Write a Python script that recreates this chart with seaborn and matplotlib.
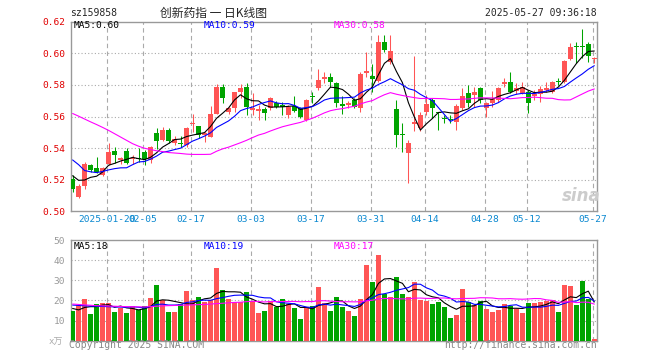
import matplotlib
matplotlib.use("Agg")
import matplotlib.pyplot as plt
import numpy as np
import pandas as pd
import seaborn as sns

# daily OHLC (2025-01-10 .. 2025-05-27)
opens = [
    0.5202, 0.5092, 0.5162, 0.5291, 0.5274, 0.5230, 0.5299, 0.5381, 0.5325, 0.5381,
    0.5329, 0.5337, 0.5375, 0.5325, 0.5496, 0.5451, 0.5515, 0.5430, 0.5426, 0.5419,
    0.5551, 0.5541, 0.5483, 0.5472, 0.5616, 0.5785, 0.5630, 0.5652, 0.5753, 0.5785,
    0.5641, 0.5637, 0.5647, 0.5652, 0.5688, 0.5673, 0.5609, 0.5666, 0.5652, 0.5578,
    0.5727, 0.5778, 0.5835, 0.5852, 0.5810, 0.5679, 0.5673, 0.5704, 0.5656, 0.5873,
    0.5857, 0.5825, 0.6070, 0.5943, 0.5647, 0.5487, 0.5367, 0.5550, 0.5527, 0.5628,
    0.5704, 0.5627, 0.5584, 0.5580, 0.5567, 0.5654, 0.5751, 0.5735, 0.5778, 0.5652,
    0.5683, 0.5704, 0.5804, 0.5820, 0.5763, 0.5751, 0.5757, 0.5730, 0.5742, 0.5768,
    0.5757, 0.5822, 0.5820, 0.5962, 0.6044, 0.6044, 0.6057, 0.5966,
]
highs = [
    0.5230, 0.5173, 0.5314, 0.5299, 0.5345, 0.5278, 0.5430, 0.5409, 0.5345, 0.5402,
    0.5356, 0.5398, 0.5388, 0.5413, 0.5527, 0.5533, 0.5527, 0.5477, 0.5477, 0.5535,
    0.5614, 0.5541, 0.5504, 0.5666, 0.5806, 0.5806, 0.5662, 0.5753, 0.5806, 0.5810,
    0.5747, 0.5673, 0.5662, 0.5725, 0.5698, 0.5694, 0.5673, 0.5730, 0.5662, 0.5709,
    0.5757, 0.5899, 0.5884, 0.5873, 0.5820, 0.5732, 0.5698, 0.5715, 0.5884, 0.6006,
    0.5930, 0.6116, 0.6116, 0.6116, 0.5704, 0.5557, 0.5451, 0.5983, 0.5626, 0.5736,
    0.5715, 0.5630, 0.5609, 0.5609, 0.5679, 0.5778, 0.5799, 0.5789, 0.5789, 0.5694,
    0.5764, 0.5789, 0.5841, 0.5884, 0.5810, 0.5820, 0.5768, 0.5768, 0.5793, 0.5820,
    0.5824, 0.5841, 0.5958, 0.6067, 0.6073, 0.6152, 0.6073, 0.5975,
]
lows = [
    0.5124, 0.5082, 0.5143, 0.5251, 0.5240, 0.5224, 0.5293, 0.5304, 0.5299, 0.5299,
    0.5299, 0.5314, 0.5293, 0.5307, 0.5394, 0.5445, 0.5430, 0.5419, 0.5405, 0.5405,
    0.5504, 0.5462, 0.5440, 0.5468, 0.5616, 0.5683, 0.5616, 0.5630, 0.5715, 0.5609,
    0.5609, 0.5578, 0.5578, 0.5641, 0.5652, 0.5609, 0.5588, 0.5630, 0.5588, 0.5573,
    0.5683, 0.5768, 0.5814, 0.5789, 0.5662, 0.5614, 0.5652, 0.5652, 0.5626, 0.5852,
    0.5757, 0.5820, 0.6006, 0.5930, 0.5409, 0.5377, 0.5177, 0.5508, 0.5508, 0.5609,
    0.5588, 0.5514, 0.5557, 0.5557, 0.5514, 0.5641, 0.5662, 0.5662, 0.5683, 0.5599,
    0.5662, 0.5694, 0.5789, 0.5747, 0.5742, 0.5742, 0.5624, 0.5704, 0.5694, 0.5757,
    0.5751, 0.5799, 0.5814, 0.5958, 0.5936, 0.5968, 0.5947, 0.5937,
]
closes = [
    0.5139, 0.5160, 0.5299, 0.5261, 0.5251, 0.5272, 0.5375, 0.5358, 0.5335, 0.5304,
    0.5335, 0.5333, 0.5329, 0.5409, 0.5445, 0.5515, 0.5445, 0.5456, 0.5424, 0.5525,
    0.5561, 0.5484, 0.5497, 0.5616, 0.5785, 0.5719, 0.5652, 0.5753, 0.5778, 0.5660,
    0.5656, 0.5647, 0.5620, 0.5715, 0.5662, 0.5662, 0.5662, 0.5637, 0.5599, 0.5704,
    0.5722, 0.5831, 0.5852, 0.5820, 0.5683, 0.5668, 0.5683, 0.5662, 0.5867, 0.5888,
    0.5837, 0.6070, 0.6021, 0.6015, 0.5483, 0.5483, 0.5434, 0.5563, 0.5609, 0.5679,
    0.5652, 0.5624, 0.5582, 0.5578, 0.5666, 0.5730, 0.5687, 0.5756, 0.5704, 0.5688,
    0.5709, 0.5778, 0.5820, 0.5757, 0.5778, 0.5789, 0.5688, 0.5742, 0.5772, 0.5778,
    0.5820, 0.5820, 0.5953, 0.6038, 0.6042, 0.6042, 0.5983, 0.5968,
]
# volume in units of 10k
volumes = [
    14.7, 17.7, 20.7, 13.2, 18.2, 18.7, 18.7, 14.2, 16.2, 13.7,
    17.2, 15.2, 17.2, 21.2, 27.7, 20.2, 14.2, 14.2, 18.2, 24.7,
    20.2, 21.7, 19.2, 20.2, 36.1, 25.2, 20.7, 19.2, 19.2, 24.2,
    19.7, 13.7, 14.7, 19.7, 16.7, 20.7, 18.2, 16.2, 10.8, 16.7,
    17.2, 26.7, 18.7, 14.7, 21.7, 16.7, 14.7, 12.2, 20.7, 37.6,
    29.2, 42.6, 23.2, 21.7, 31.7, 23.2, 21.7, 29.2, 20.2, 19.7,
    18.2, 19.2, 16.7, 11.2, 12.7, 25.7, 19.2, 17.7, 19.7, 15.7,
    14.2, 15.2, 18.2, 17.2, 15.7, 13.7, 18.7, 18.7, 19.2, 19.7,
    20.2, 14.2, 27.7, 27.2, 17.7, 29.7, 20.7, 0.8,
]

# moving averages before a full window is available (they depend on earlier days)
ma5_head = [0.5225, 0.5196, 0.5198, 0.5215]
ma10_head = [0.5325, 0.5295, 0.5258, 0.5250, 0.5245, 0.5252, 0.5262, 0.5270, 0.5275]
ma30_head = [
    0.5619, 0.5602, 0.5584, 0.5566, 0.5549, 0.5531, 0.5512, 0.5491, 0.5470, 0.5449,
    0.5428, 0.5412, 0.5399, 0.5391, 0.5383, 0.5378, 0.5372, 0.5369, 0.5366, 0.5362,
    0.5360, 0.5360, 0.5360, 0.5361, 0.5380, 0.5395, 0.5406, 0.5420, 0.5434,
]
vma5_head = [16.0, 15.3, 16.5, 16.9]
vma10_head = [17.7, 17.5, 17.3, 17.2, 17.1, 17.0, 16.9, 16.8, 16.7]
vma30_head = [
    18.2, 18.0, 17.8, 17.6, 17.4, 17.3, 17.2, 17.1, 17.0, 16.9,
    16.9, 16.8, 16.8, 16.9, 17.1, 17.3, 17.4, 17.5, 17.6, 17.7,
    17.8, 17.9, 18.0, 18.2, 18.4, 18.6, 18.8, 19.0, 19.1,
]

tick_idx = [6, 12, 20, 30, 40, 50, 59, 69, 76, 87]
tick_labels = ["2025-01-20", "02-05", "02-17", "03-03", "03-17",
               "03-31", "04-14", "04-28", "05-12", "05-27"]
price_ticks = [0.50, 0.52, 0.54, 0.56, 0.58, 0.60, 0.62]
vol_ticks = [10, 20, 30, 40, 50]

RED = "#ff5555"
GREEN = "#00a400"
GRID = "#aaaaaa"
BORDER = "#999999"

sns.set_style("white")
plt.rcParams["font.family"] = ["DejaVu Sans Mono", "Noto Sans CJK SC"]


def with_head(series, window, head):
    ma = series.rolling(window).mean()
    ma.iloc[: len(head)] = head
    return ma


df = pd.DataFrame({"open": opens, "high": highs, "low": lows,
                   "close": closes, "vol": volumes})
df["idx"] = np.arange(len(df))
df["dir"] = np.where(df["close"] >= df["open"], "up", "down")
df["ma5"] = with_head(df["close"], 5, ma5_head)
df["ma10"] = with_head(df["close"], 10, ma10_head)
df["ma30"] = with_head(df["close"], 30, ma30_head)
df["vma5"] = with_head(df["vol"], 5, vma5_head)
df["vma10"] = with_head(df["vol"], 10, vma10_head)
df["vma30"] = with_head(df["vol"], 30, vma30_head)

W, H = 660, 360
fig = plt.figure(figsize=(W / 100, H / 100), dpi=100)
fig.patch.set_facecolor("white")


def px_axes(left, top, right, bottom):
    return fig.add_axes([left / W, 1 - bottom / H, (right - left) / W, (bottom - top) / H])


def ftext(x, y, s, **kw):
    fig.text(x / W, 1 - y / H, s, va="center", **kw)


ax = px_axes(70.7, 21.7, 597, 211.3)
axv = px_axes(70.7, 240, 597, 340.7)

xlim = (-0.32, 87.45)
tick_pos = [i - 0.3 for i in tick_idx]
colors = df["dir"].map({"up": RED, "down": GREEN})

# candles
ax.vlines(df["idx"], df["low"], df["high"], colors=colors, lw=0.75, zorder=3)
body_lo = df[["open", "close"]].min(axis=1)
body_h = (df["close"] - df["open"]).abs().clip(lower=0.0007)
ax.bar(df["idx"], body_h, bottom=body_lo, width=0.8, color=colors, linewidth=0, zorder=3)

for col, c in [("ma5", "black"), ("ma10", "#0000ff"), ("ma30", "#ff00ff")]:
    sns.lineplot(data=df, x="idx", y=col, ax=ax, color=c, lw=0.8, zorder=4)

# volume
sns.barplot(data=df, x="idx", y="vol", hue="dir", palette={"up": RED, "down": GREEN},
            native_scale=True, dodge=False, width=0.83, saturation=1,
            linewidth=0, errorbar=None, legend=False, ax=axv, zorder=3)
for col, c in [("vma5", "black"), ("vma10", "#0000ff"), ("vma30", "#ff00ff")]:
    sns.lineplot(data=df, x="idx", y=col, ax=axv, color=c, lw=0.8, zorder=4)

for a in (ax, axv):
    a.set_xlim(*xlim)
    a.set_xlabel("")
    a.set_ylabel("")
    for s in a.spines.values():
        s.set_color(BORDER)
        s.set_linewidth(1)
    a.tick_params(length=0)
    for p in tick_pos:
        a.axvline(p, color=GRID, lw=0.8, ls=(0, (4, 3)), zorder=1)

ax.set_ylim(0.50, 0.62)
ax.set_yticks(price_ticks)
ax.set_yticklabels([f"{v:.2f}" for v in price_ticks], color="#e00000", fontsize=6.8)
for v in price_ticks[1:-1]:
    ax.axhline(v, color=GRID, lw=0.8, ls=(0, (1, 2)), zorder=1)
ax.set_xticks(tick_pos)
ax.set_xticklabels(tick_labels, color="#0a88d0", fontsize=6.8)
ax.tick_params(axis="y", pad=4)
ax.tick_params(axis="x", pad=3)

axv.set_ylim(0, 50)
axv.set_yticks(vol_ticks)
axv.set_yticklabels([str(v) for v in vol_ticks], color="#999999", fontsize=6.8)
axv.tick_params(axis="y", pad=4)
axv.set_xticks([])
for v in vol_ticks[:-1]:
    axv.axhline(v, color=GRID, lw=0.8, ls=(0, (1, 2)), zorder=1)

# header and labels
ftext(70, 13, "sz159858", fontsize=7)
ftext(213, 13, "创新药指 一 日K线图", ha="center", fontsize=8.5,
      family=["Noto Sans CJK SC", "DejaVu Sans"])
ftext(597, 13, "2025-05-27 09:36:18", ha="right", fontsize=7)

ftext(74, 26, "MA5:0.60", fontsize=6.8, color="black")
ftext(204, 26, "MA10:0.59", fontsize=6.8, color="#0000ff")
ftext(334, 26, "MA30:0.58", fontsize=6.8, color="#ff00ff")

ftext(74, 246.5, "MA5:18", fontsize=6.8, color="black")
ftext(204, 246.5, "MA10:19", fontsize=6.8, color="#0000ff")
ftext(334, 246.5, "MA30:17", fontsize=6.8, color="#ff00ff")

ftext(56, 342, "x万", ha="center", fontsize=6.5, color="#aaaaaa")
ftext(69, 345.5, "Copyright 2025 SINA.COM", fontsize=7, color="#888888")
ftext(597, 345.5, "http://finance.sina.com.cn", ha="right", fontsize=7, color="#888888")

# watermark
ftext(581, 196, "sina", ha="center", fontsize=12, color="#cccccc",
      style="italic", weight="bold", family=["DejaVu Sans"])

fig.savefig("out.png", dpi=100, facecolor="white")
